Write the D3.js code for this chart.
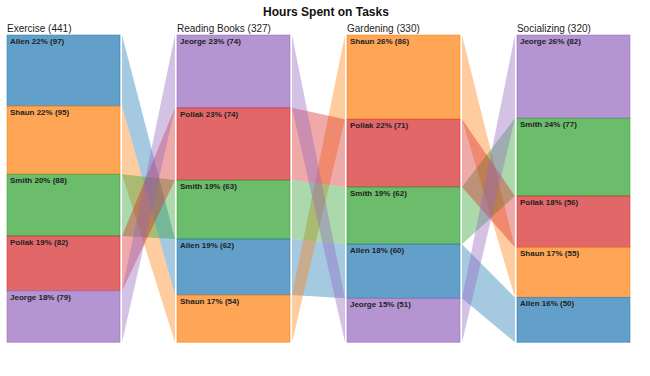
<!DOCTYPE html>
<html>
<head>
<meta charset="utf-8">
<script src="https://cdn.jsdelivr.net/npm/d3@7"></script>
<style>
  body { margin: 0; background: #fff; }
  svg { font-family: "Liberation Sans", Arial, sans-serif; }
</style>
</head>
<body>
<div id="chart"></div>
<script>
////////////////////////////////////////////////////////////////////////
// Data

const people = ["Allen", "Shaun", "Smith", "Pollak", "Jeorge"];
const tasks = ["Exercise", "Reading Books", "Gardening", "Socializing"];

// hours per person, in the people order above
const exerciseHours = [97, 95, 88, 82, 79];
const readingHours = [62, 54, 63, 74, 74];
const gardeningHours = [60, 86, 62, 71, 51];
const socializingHours = [50, 55, 77, 56, 82];

// segment size (share of column, %) as drawn in the picture, people order
const exerciseShare = [23.1, 22.2, 20.1, 17.8, 16.8];
const readingShare = [18.2, 15.4, 19.2, 23.5, 23.7];
const gardeningShare = [17.6, 27.4, 18.6, 22.0, 14.3];
const socializingShare = [14.6, 16.3, 25.3, 16.7, 27.1];

const colors = ["#1f77b4", "#ff7f0e", "#2ca02c", "#d62728", "#9467bd"];

////////////////////////////////////////////////////////////////////////
// Layout

const width = 650;
const height = 376;
const barTop = 35, barBottom = 342.3;
const gap = 2; // white gap between bar and ribbon

const hoursByTask = [exerciseHours, readingHours, gardeningHours, socializingHours];
const shareByTask = [exerciseShare, readingShare, gardeningShare, socializingShare];

let svg = d3.select("#chart")
  .append("svg")
  .attr("width", width).attr("height", height);

let xScale = d3.scaleBand()
  .domain(tasks)
  .range([7, 630])
  .paddingInner(0.335)
  .paddingOuter(0);

let colorScale = d3.scaleOrdinal().domain(people).range(colors);

// build stacked segments per task, sorted by drawn size
let columns = tasks.map((task, ti) => {
  let hours = hoursByTask[ti];
  let share = shareByTask[ti];
  let total = d3.sum(hours);
  let yScale = d3.scaleLinear().domain([0, d3.sum(share)]).range([barTop, barBottom]);
  let order = d3.range(people.length).sort((a, b) => share[b] - share[a]);
  let acc = 0;
  let segs = {};
  order.forEach((pi) => {
    segs[people[pi]] = {
      name: people[pi],
      hours: hours[pi],
      pct: Math.round(hours[pi] / total * 100),
      y0: yScale(acc),
      y1: yScale(acc + share[pi])
    };
    acc += share[pi];
  });
  return { task: task, total: total, segs: segs, order: order };
});

// Ribbons between neighbouring columns
let ribbonG = svg.append("g");
for (let i = 0; i < tasks.length - 1; i++) {
  let xa = xScale(tasks[i]) + xScale.bandwidth() + gap;
  let xb = xScale(tasks[i + 1]) - gap;
  people.forEach((p) => {
    let a = columns[i].segs[p];
    let b = columns[i + 1].segs[p];
    ribbonG.append("path")
      .attr("d", "M" + xa + "," + a.y0 + "L" + xb + "," + b.y0 +
                 "L" + xb + "," + b.y1 + "L" + xa + "," + a.y1 + "Z")
      .attr("fill", colorScale(p))
      .attr("fill-opacity", 0.4)
      .attr("stroke", "none");
  });
}

// Stacked bars
columns.forEach((col) => {
  let x = xScale(col.task);
  let g = svg.append("g");

  g.append("text")
    .attr("x", x)
    .attr("y", 32)
    .attr("font-size", 10)
    .attr("fill", "#222")
    .text(col.task + " (" + col.total + ")");

  let segs = col.order.map((pi) => col.segs[people[pi]]);

  g.selectAll("rect")
    .data(segs)
    .enter()
    .append("rect")
    .attr("x", x)
    .attr("y", (d) => d.y0)
    .attr("width", xScale.bandwidth())
    .attr("height", (d) => d.y1 - d.y0)
    .attr("fill", (d) => colorScale(d.name))
    .attr("fill-opacity", 0.7)
    .attr("stroke", (d) => colorScale(d.name))
    .attr("stroke-opacity", 0.5)
    .attr("stroke-width", 1);

  g.selectAll("text.lbl")
    .data(segs)
    .enter()
    .append("text")
    .attr("class", "lbl")
    .attr("x", x + 3)
    .attr("y", (d) => d.y0 + 9)
    .attr("font-size", 8)
    .attr("font-weight", "bold")
    .attr("fill", "#222")
    .text((d) => d.name + " " + d.pct + "% (" + d.hours + ")");
});

// Title
svg.append("text")
  .attr("x", 326)
  .attr("y", 16)
  .attr("text-anchor", "middle")
  .attr("font-size", 12)
  .attr("font-weight", "bold")
  .attr("fill", "#111")
  .text("Hours Spent on Tasks");
</script>
</body>
</html>
